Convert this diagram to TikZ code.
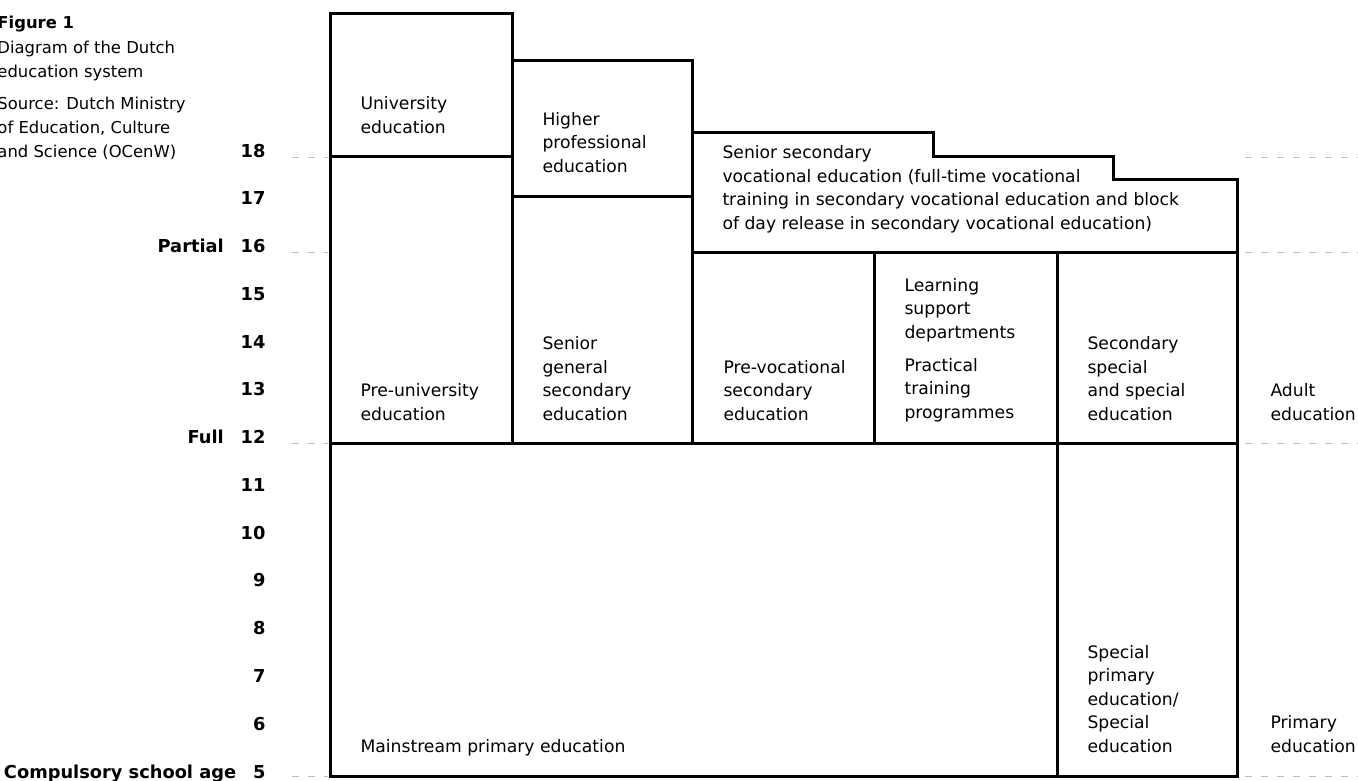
\documentclass[tikz,border=0pt]{standalone}
\usepackage{fontspec}
\setmainfont{DejaVu Sans}
\begin{document}
\begin{tikzpicture}[x=1pt,y=-1pt,line width=3pt,line join=miter,
 lbl/.style={anchor=base west,align=left,inner sep=0pt,
  font=\fontsize{17.2}{23.4}\selectfont},
 capt/.style={anchor=base west,align=left,inner sep=0pt,
  font=\fontsize{16.4}{23.6}\selectfont},
 agenum/.style={anchor=base east,inner sep=0pt,
  font=\fontsize{17.8}{20}\selectfont\bfseries},
 guide/.style={line width=1pt,gray!50,dash pattern=on 7pt off 9pt}]
\useasboundingbox (0,0) rectangle (1358,780);
% caption (anchor = baseline of the last line)
\node[capt] (fig) at (-4,28) {\bfseries Figure 1};
\node[capt] (title) at (-4,77) {Diagram of the Dutch\\education system};
\node[capt] (src) at (-4,157) {Source: Dutch Ministry\\of Education, Culture\\and Science (OCenW)};
% ages 5..18
\foreach \a in {5,...,18}
 \node[agenum] (age\a) at (267,{157+(18-\a)*47.77}) {\a};
\node[agenum] (lpart) at ([xshift=-14pt]age16.base west) {Partial};
\node[agenum] (lfull) at ([xshift=-14pt]age12.base west) {Full};
\node[agenum] (lcomp) at ([xshift=-14pt]age5.base west) {Compulsory school age};
% faint guide marks
\foreach \y in {157,252,443,776} {
 \draw[guide] (292,\y)--(328,\y);
 \draw[guide] (1245,\y)--(1358,\y);
}
% outline of the stepped block
\draw (330,776)--(330,13)--(512,13)--(512,60)--(692,60)--(692,132)
 --(933,132)--(933,156)--(1113,156)--(1113,179)--(1237,179)--(1237,776)--cycle;
\draw (512,60)--(512,443);
\draw (692,132)--(692,443);
\draw (330,156)--(512,156);
\draw (512,196)--(692,196);
\draw (692,252)--(1237,252);
\draw (874,252)--(874,443);
\draw (1057,252)--(1057,776);
\draw (330,443)--(1237,443);
% upper row
\node[lbl] (uni) at (359,133) {University\\education};
\node[lbl] (hbo) at (541,172) {Higher\\professional\\education};
\node[lbl] (mbo) at (721,229) {Senior secondary\\vocational education (full-time vocational\\training in secondary vocational education and block\\of day release in secondary vocational education)};
% secondary row
\node[lbl] (vwo) at (359,420) {Pre-university\\education};
\node[lbl] (havo) at (541,420) {Senior\\general\\secondary\\education};
\node[lbl] (vmbo) at (722,420) {Pre-vocational\\secondary\\education};
\node[lbl] (lwoo) at (903,338) {Learning\\support\\departments};
\node[lbl] (prak) at (903,418) {Practical\\training\\programmes};
\node[lbl] (vso) at (1086,420) {Secondary\\special\\and special\\education};
\node[lbl] (adult) at (1269,420) {Adult\\education};
% primary row
\node[lbl] (bao) at (359,752) {Mainstream primary education};
\node[lbl] (sbo) at (1086,752) {Special\\primary\\education/\\Special\\education};
\node[lbl] (prim) at (1269,752) {Primary\\education};
\end{tikzpicture}
\end{document}
